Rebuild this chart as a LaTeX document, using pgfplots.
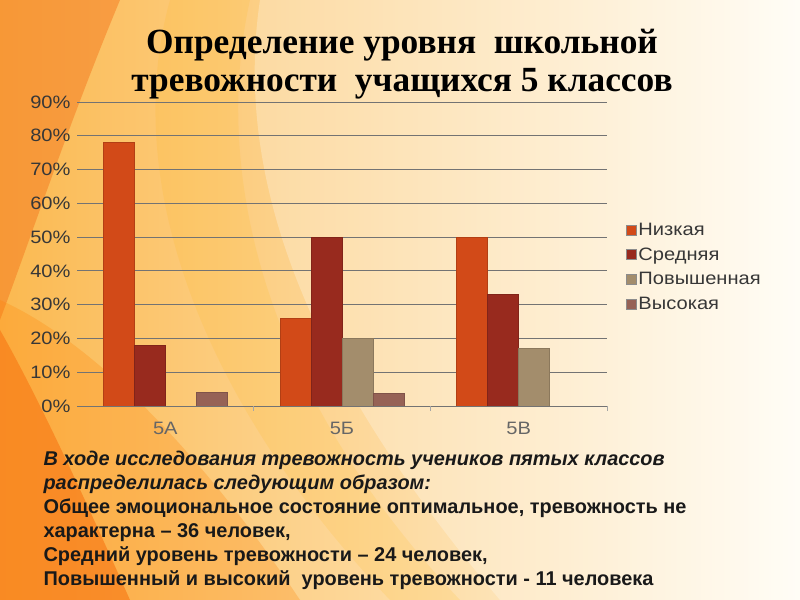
\documentclass[border=0pt]{standalone}
\usepackage{pgfplots}
\pgfplotsset{compat=1.18}
\usepackage{fontspec}
\setmainfont{Liberation Sans}
\newfontfamily\titlefont{Liberation Serif}
\newfontfamily\widefont[FakeStretch=1.12]{Liberation Sans}
\definecolor{cLow}{RGB}{210,74,24}
\definecolor{cMid}{RGB}{152,42,30}
\definecolor{cHigh}{RGB}{163,141,108}
\definecolor{cVHigh}{RGB}{150,98,86}
\definecolor{bgL}{RGB}{251,185,80}
\definecolor{bgM}{RGB}{255,240,200}
\definecolor{bgR}{RGB}{255,253,244}
\definecolor{deepor}{RGB}{245,120,30}
\definecolor{txt}{RGB}{55,55,55}
\begin{document}
\begin{tikzpicture}[x=1bp,y=1bp]
\path[use as bounding box] (0,0) rectangle (800,600);
\shade[left color=bgL, middle color=bgM, right color=bgR] (0,0) rectangle (800,600);
% swirls
\fill[deepor, opacity=0.5] (0,600) -- (120,600) .. controls (70,480) and (30,360) .. (0,280) -- cycle;
\fill[deepor, opacity=0.65] (0,0) -- (0,270) .. controls (40,200) and (90,90) .. (130,0) -- cycle;
\fill[orange, opacity=0.25] (0,300) .. controls (90,260) and (200,150) .. (300,0) -- (0,0) -- cycle;
\fill[orange!60!yellow, opacity=0.12] (170,600) .. controls (120,420) and (200,200) .. (390,0) -- (460,0) .. controls (270,200) and (210,420) .. (250,600) -- cycle;
\fill[white, opacity=0.25] (260,600) .. controls (230,400) and (330,200) .. (500,0) -- (800,0) -- (800,600) -- cycle;
\begin{axis}[
  at={(77bp,194bp)}, anchor=south west,
  scale only axis, width=530bp, height=304bp,
  ybar=0pt, bar width=31bp,
  xmin=-0.5, xmax=2.5, ymin=0, ymax=90,
  xtick={0,1,2}, xticklabels={5А,5Б,5В},
  minor xtick={0.5,1.5,2.5},
  ytick={0,10,...,90},
  yticklabels={0\%,10\%,20\%,30\%,40\%,50\%,60\%,70\%,80\%,90\%},
  major tick length=0pt, minor tick length=5bp,
  tick align=outside, xtick pos=bottom, ytick pos=left,
  minor tick style={draw=gray!70, line width=0.8bp},
  axis line style={draw=none},
  ymajorgrids, major grid style={draw=black!55, line width=0.9bp},
  tick label style={font=\widefont\fontsize{18}{21}\selectfont, text=txt},
  yticklabel style={xshift=-3bp},
  xticklabel style={yshift=-13bp, text=black!60},
  legend style={at={(1.03,0.457)}, anchor=west, draw=none, fill=none,
    font=\widefont\fontsize{18}{21}\selectfont, text=txt, row sep=7bp},
  legend cell align=left,
  legend image code/.code={\draw[#1, draw=black!45, line width=0.4bp] (0bp,-5bp) rectangle (10bp,5bp);},
]
\addplot[fill=cLow, draw=cLow!85!black] coordinates {(0,78) (1,26) (2,50)};
\addplot[fill=cMid, draw=cMid!85!black] coordinates {(0,18) (1,50) (2,33)};
\addplot[fill=cHigh, draw=cHigh!85!black] coordinates {(1,20) (2,17)};
\addplot[fill=cVHigh, draw=cVHigh!85!black] coordinates {(0,4) (1,3.7)};
\legend{Низкая,Средняя,Повышенная,Высокая}
\end{axis}
\node[align=center, font=\titlefont\bfseries\fontsize{35.5}{38}\selectfont] at (402,536) {Определение уровня~ школьной\\тревожности~ учащихся 5 классов};
\node[anchor=north west, align=left, font=\bfseries\fontsize{20}{24}\selectfont, text=black!90] at (40,152) {\itshape В ходе исследования тревожность учеников пятых классов\\\itshape распределилась следующим образом:\\Общее эмоциональное состояние оптимальное, тревожность не\\характерна – 36 человек,\\Средний уровень тревожности – 24 человек,\\Повышенный и высокий~ уровень тревожности - 11 человека};
\end{tikzpicture}
\end{document}
